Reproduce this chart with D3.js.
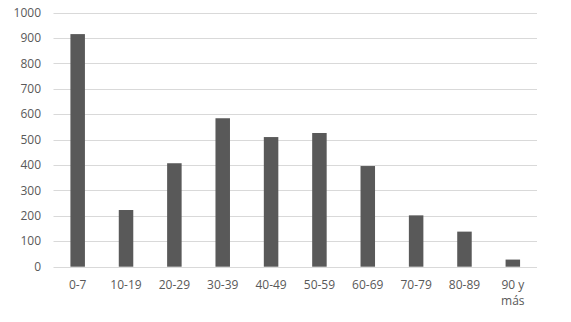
<!DOCTYPE html>
<html>
<head>
<meta charset="utf-8">
<script src="https://cdn.jsdelivr.net/npm/d3@7"></script>
<style>
  body { margin: 0; background: #fff; }
  text { font-family: "Open Sans", "Noto Sans", sans-serif; fill: #595959; }
</style>
</head>
<body>
<svg id="chart"></svg>
<script>
// age groups and counts
const categories = ["0-7", "10-19", "20-29", "30-39", "40-49", "50-59", "60-69", "70-79", "80-89", "90 y más"];
const values = [915, 223, 407, 584, 510, 526, 396, 202, 138, 28];
const yTicks = [0, 100, 200, 300, 400, 500, 600, 700, 800, 900, 1000];

const width = 571, height = 322;
const margin = { top: 12.5, right: 34, bottom: 55.3, left: 53.5 };

const svg = d3.select("#chart")
    .attr("width", width)
    .attr("height", height);

const x = d3.scaleBand()
    .domain(categories)
    .range([margin.left, width - margin.right])
    .paddingInner(0.7)
    .paddingOuter(0.35);

const y = d3.scaleLinear()
    .domain([0, 1000])
    .range([height - margin.bottom, margin.top]);

// gridlines
svg.append("g")
    .selectAll("line")
    .data(yTicks)
    .enter()
    .append("line")
    .attr("x1", margin.left)
    .attr("x2", width - margin.right)
    .attr("y1", d => Math.round(y(d)) + 0.5)
    .attr("y2", d => Math.round(y(d)) + 0.5)
    .attr("stroke", "#d9d9d9")
    .attr("stroke-width", 1);

// y labels
svg.append("g")
    .selectAll("text")
    .data(yTicks)
    .enter()
    .append("text")
    .attr("x", 41)
    .attr("y", d => y(d))
    .attr("dy", "0.35em")
    .attr("text-anchor", "end")
    .style("font-size", "12px")
    .text(d => d);

// bars
svg.append("g")
    .selectAll("rect")
    .data(values)
    .enter()
    .append("rect")
    .attr("x", (d, i) => x(categories[i]))
    .attr("width", x.bandwidth())
    .attr("y", d => y(d))
    .attr("height", d => y(0) - y(d))
    .attr("fill", "#595959");

// x labels (wrap "90 y más")
const xl = svg.append("g")
    .selectAll("text")
    .data(categories)
    .enter()
    .append("text")
    .attr("x", d => x(d) + x.bandwidth() / 2)
    .attr("y", 289)
    .attr("text-anchor", "middle")
    .style("font-size", "12px");

xl.each(function (d) {
    const el = d3.select(this);
    const parts = d === "90 y más" ? ["90 y", "más"] : [d];
    parts.forEach((p, j) => {
        el.append("tspan")
            .attr("x", x(d) + x.bandwidth() / 2)
            .attr("dy", j === 0 ? 0 : 16)
            .text(p);
    });
});
</script>
</body>
</html>
